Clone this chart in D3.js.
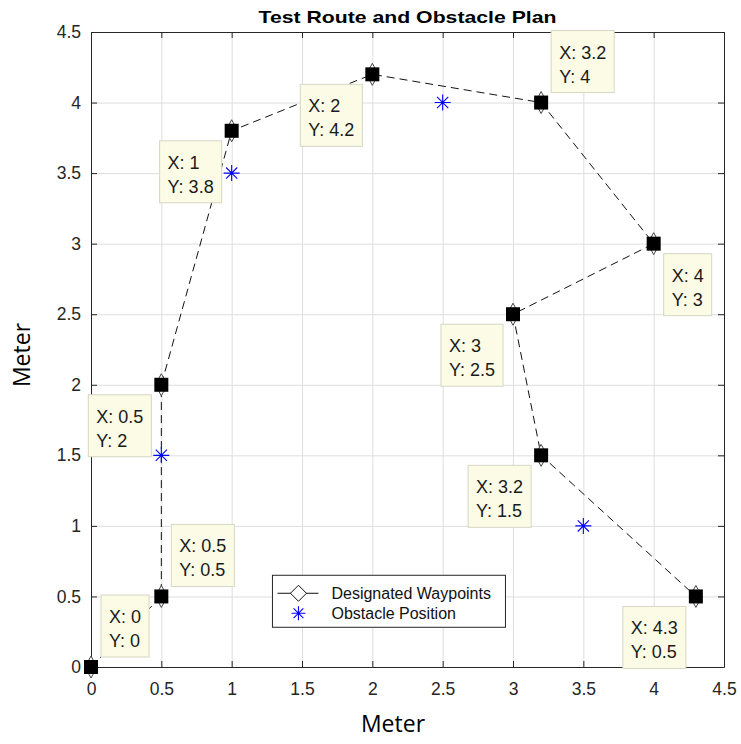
<!DOCTYPE html>
<html lang="en">
<head>
<meta charset="UTF-8">
<title>Test Route and Obstacle Plan</title>
<script src="https://d3js.org/d3.v7.min.js"></script>
<style>
    body { margin: 0; background: #fff; }
    svg { display: block; }
    .tick-label { font: 17.5px "Liberation Sans", Arial, sans-serif; fill: #262626; }
    .grid line { stroke: #dedede; stroke-width: 1px; }
    .tip text { font: 18px "Liberation Sans", Arial, sans-serif; fill: #1a1a1a; }
</style>
</head>
<body>
<div id="chart"></div>
<script>
// waypoint route (x, y in meters)
const routeX = [0, 0.5, 0.5, 1, 2, 3.2, 4, 3, 3.2, 4.3];
const routeY = [0, 0.5, 2, 3.8, 4.2, 4, 3, 2.5, 1.5, 0.5];
// which side of the point each data tip sits on
const tipSide = ["ur", "ur", "dl", "dl", "dl", "ur", "dr", "dl", "dl", "dl"];

// obstacles
const obstacleX = [0.5, 1, 2.5, 3.5];
const obstacleY = [1.5, 3.5, 4, 1];

const ticks = [0, 0.5, 1, 1.5, 2, 2.5, 3, 3.5, 4, 4.5];
const tickLabels = ["0", "0.5", "1", "1.5", "2", "2.5", "3", "3.5", "4", "4.5"];

const width = 741, height = 744;
const margin = { top: 32, right: 17, bottom: 77, left: 91 };
const innerW = width - margin.left - margin.right;
const innerH = height - margin.top - margin.bottom;

const svg = d3.select("#chart").append("svg")
    .attr("width", width)
    .attr("height", height);

const x = d3.scaleLinear().domain([0, 4.5]).range([0, innerW]);
const y = d3.scaleLinear().domain([0, 4.5]).range([innerH, 0]);

const g = svg.append("g")
    .attr("transform", `translate(${margin.left},${margin.top})`);

// grid
const grid = g.append("g").attr("class", "grid");
grid.selectAll(".gx").data(ticks.slice(1, -1)).enter().append("line")
    .attr("x1", d => x(d) + 0.5).attr("x2", d => x(d) + 0.5)
    .attr("y1", 0).attr("y2", innerH);
grid.selectAll(".gy").data(ticks.slice(1, -1)).enter().append("line")
    .attr("y1", d => y(d) + 0.5).attr("y2", d => y(d) + 0.5)
    .attr("x1", 0).attr("x2", innerW);

// axes (inward ticks on all four sides, like a boxed matlab axes)
const fmt = d => tickLabels[ticks.indexOf(d)];
const xAxis = g.append("g").attr("transform", `translate(0,${innerH})`)
    .call(d3.axisBottom(x).tickValues(ticks).tickSizeInner(-6).tickSizeOuter(0).tickPadding(16).tickFormat(fmt));
const yAxis = g.append("g")
    .call(d3.axisLeft(y).tickValues(ticks).tickSizeInner(-6).tickSizeOuter(0).tickPadding(10).tickFormat(fmt));
g.append("g")
    .call(d3.axisTop(x).tickValues(ticks).tickSizeInner(-6).tickSizeOuter(0).tickFormat(""));
g.append("g").attr("transform", `translate(${innerW},0)`)
    .call(d3.axisRight(y).tickValues(ticks).tickSizeInner(-6).tickSizeOuter(0).tickFormat(""));

g.selectAll(".domain").attr("stroke", "#262626");
g.selectAll(".tick line").attr("stroke", "#262626");
[xAxis, yAxis].forEach(a => a.selectAll("text")
    .attr("class", "tick-label")
    .attr("font-size", null).attr("font-family", null));
xAxis.selectAll("text").attr("dy", "0.71em");

// route line
const pts = routeX.map((d, i) => ({ x: d, y: routeY[i], side: tipSide[i] }));
g.append("path")
    .datum(pts)
    .attr("fill", "none")
    .attr("stroke", "#111")
    .attr("stroke-width", 1)
    .attr("stroke-dasharray", "8,5")
    .attr("d", d3.line().x(d => x(d.x)).y(d => y(d.y)));

// waypoint markers: diamond plus datatip square
const wp = g.selectAll(".wp").data(pts).enter().append("g")
    .attr("transform", d => `translate(${x(d.x)},${y(d.y)})`);
wp.append("path")
    .attr("d", "M0,-11 L6,0 L0,11 L-6,0 Z")
    .attr("fill", "#fff")
    .attr("stroke", "#444")
    .attr("stroke-width", 1);
wp.append("rect")
    .attr("x", -7).attr("y", -7)
    .attr("width", 14).attr("height", 14)
    .attr("fill", "#000");

// obstacles as asterisks
function asterisk(sel, r) {
    sel.append("path")
        .attr("d", `M${-r},0H${r}M0,${-r}V${r}M${-r * 0.7},${-r * 0.7}L${r * 0.7},${r * 0.7}M${-r * 0.7},${r * 0.7}L${r * 0.7},${-r * 0.7}`)
        .attr("stroke", "#0000ff")
        .attr("stroke-width", 1.1)
        .attr("fill", "none");
}
const obs = g.selectAll(".obs").data(obstacleX.map((d, i) => ({ x: d, y: obstacleY[i] })))
    .enter().append("g")
    .attr("transform", d => `translate(${x(d.x)},${y(d.y)})`);
asterisk(obs, 8);

// data tips
const tips = g.selectAll(".tip").data(pts).enter().append("g").attr("class", "tip");
tips.each(function (d) {
    const t = d3.select(this);
    const lines = [`X: ${d.x}`, `Y: ${d.y}`];
    const txt = t.selectAll("text").data(lines).enter().append("text").text(s => s);
    const w = d3.max(txt.nodes(), n => n.getComputedTextLength()) + 16;
    const h = 62;
    const px = x(d.x), py = y(d.y), off = 10;
    const left = d.side.includes("r") ? px + off : px - off - w;
    const top = d.side.includes("u") ? py - off - h : py + off;
    t.insert("rect", "text")
        .attr("x", left).attr("y", top)
        .attr("width", w).attr("height", h)
        .attr("fill", "#fbfbe6")
        .attr("stroke", "#d6d6c4")
        .attr("stroke-width", 1);
    txt.attr("x", left + 8)
        .attr("y", (s, i) => top + 28 + i * 24);
});

// legend
const leg = g.append("g").attr("transform", `translate(${x(1.29)},${y(0.65)})`);
leg.append("rect")
    .attr("width", 233).attr("height", 52)
    .attr("fill", "#fff")
    .attr("stroke", "#262626")
    .attr("stroke-width", 1);
leg.append("line")
    .attr("x1", 5).attr("x2", 46).attr("y1", 18).attr("y2", 18)
    .attr("stroke", "#111");
leg.append("path")
    .attr("transform", "translate(26,18)")
    .attr("d", "M0,-8 L8,0 L0,8 L-8,0 Z")
    .attr("fill", "#fff")
    .attr("stroke", "#111");
asterisk(leg.append("g").attr("transform", "translate(26,38)"), 7);
leg.selectAll(".lt").data(["Designated Waypoints", "Obstacle Position"]).enter().append("text")
    .attr("x", 59)
    .attr("y", (d, i) => 24 + i * 20)
    .style("font", "16px 'Liberation Sans', Arial, sans-serif")
    .attr("fill", "#111")
    .text(d => d);

// title and axis labels
svg.append("text")
    .attr("x", margin.left + innerW / 2)
    .attr("y", 23)
    .attr("text-anchor", "middle")
    .attr("textLength", 298)
    .attr("lengthAdjust", "spacingAndGlyphs")
    .style("font", "bold 17px 'Liberation Sans', Arial, sans-serif")
    .attr("fill", "#000")
    .text("Test Route and Obstacle Plan");

svg.append("text")
    .attr("x", 393)
    .attr("y", 732)
    .attr("text-anchor", "middle")
    .style("font", "23px 'Open Sans', sans-serif")
    .attr("fill", "#000")
    .text("Meter");

svg.append("text")
    .attr("transform", "translate(30,355) rotate(-90)")
    .attr("text-anchor", "middle")
    .style("font", "23px 'Open Sans', sans-serif")
    .attr("fill", "#000")
    .text("Meter");
</script>
</body>
</html>
